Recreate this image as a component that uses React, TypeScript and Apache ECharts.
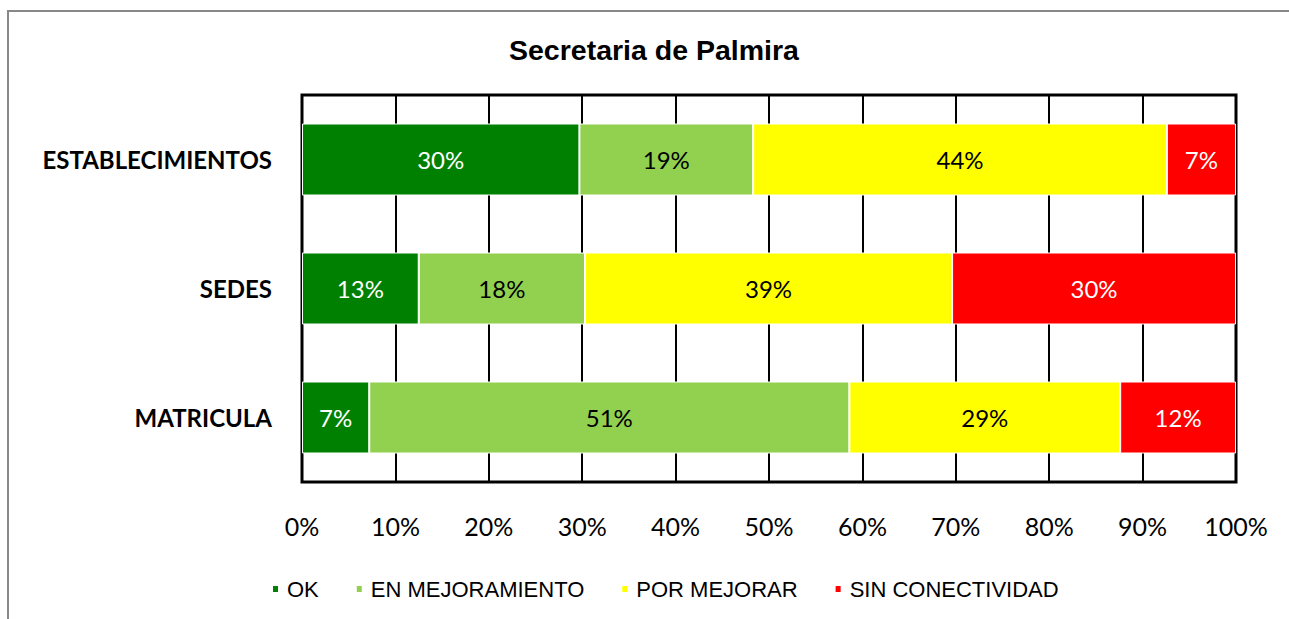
import React, { useEffect, useRef } from "react";
import * as echarts from "echarts";

const categories = ["ESTABLECIMIENTOS", "SEDES", "MATRICULA"];
const seriesNames = ["OK", "EN MEJORAMIENTO", "POR MEJORAR", "SIN CONECTIVIDAD"];
const okValues = [29.7, 12.5, 7.2];
const enMejoramientoValues = [18.6, 17.8, 51.4];
const porMejorarValues = [44.3, 39.3, 29.0];
const sinConectividadValues = [7.4, 30.4, 12.4];
const xTicks = [0, 10, 20, 30, 40, 50, 60, 70, 80, 90, 100];

const seriesColors = ["#008000", "#92D050", "#FFFF00", "#FF0000"];
const labelColors = ["#ffffff", "#000000", "#000000", "#ffffff"];

export default function App() {
  const ref = useRef<HTMLDivElement>(null);
  useEffect(() => {
    if (!ref.current) return;
    const chart = echarts.init(ref.current, null, { renderer: "svg" });
    const values = [okValues, enMejoramientoValues, porMejorarValues, sinConectividadValues];
    const option: any = {
      animation: false,
      backgroundColor: "#ffffff",
      title: {
        text: "Secretaria de Palmira",
        left: 504,
        top: 30,
        textStyle: {
          fontFamily: "'Liberation Sans', Arial, sans-serif",
          fontWeight: "bold",
          fontSize: 28.5,
          color: "#000",
        },
      },
      graphic: [
        {
          type: "line",
          shape: { x1: 8, y1: 11, x2: 1289, y2: 11 },
          style: { stroke: "#888888", lineWidth: 2 },
          silent: true,
          z: -10,
        },
        {
          type: "line",
          shape: { x1: 8, y1: 10, x2: 8, y2: 619 },
          style: { stroke: "#888888", lineWidth: 2 },
          silent: true,
          z: -10,
        },
      ],
      legend: {
        data: seriesNames,
        left: 271,
        top: 578,
        padding: 0,
        icon: "rect",
        itemWidth: 7,
        itemHeight: 8,
        itemGap: 36,
        textStyle: {
          fontFamily: "'Liberation Sans', Arial, sans-serif",
          fontSize: 22,
          color: "#000",
          padding: [0, 0, 0, 3],
        },
      },
      grid: {
        left: 302,
        right: 53,
        top: 95,
        bottom: 137,
        show: true,
        borderColor: "#000",
        borderWidth: 3,
        containLabel: false,
      },
      xAxis: {
        type: "value",
        min: xTicks[0],
        max: xTicks[xTicks.length - 1],
        interval: 10,
        axisLine: { show: false },
        axisTick: { show: false },
        splitLine: { show: true, lineStyle: { color: "#000", width: 2 } },
        axisLabel: {
          formatter: "{value}%",
          margin: 31,
          fontFamily: "Lato, 'Open Sans', sans-serif",
          fontSize: 25,
          color: "#000",
        },
      },
      yAxis: {
        type: "category",
        data: categories,
        inverse: true,
        axisLine: { show: false },
        axisTick: { show: false },
        splitLine: { show: false },
        axisLabel: {
          margin: 30,
          fontFamily: "Lato, 'Open Sans', sans-serif",
          fontWeight: "bold",
          fontSize: 24,
          color: "#000",
        },
      },
      series: seriesNames.map((name, i) => ({
        name,
        type: "bar",
        stack: "total",
        barWidth: 72,
        data: values[i],
        itemStyle: { color: seriesColors[i], borderColor: "#ffffff", borderWidth: 1 },
        label: {
          show: true,
          position: "inside",
          formatter: (p: any) => Math.round(p.value) + "%",
          fontFamily: "Lato, 'Open Sans', sans-serif",
          fontSize: 24,
          color: labelColors[i],
        },
      })),
    };
    chart.setOption(option);
    return () => chart.dispose();
  }, []);
  return (
    <div
      ref={ref}
      style={{ position: "absolute", left: 0, top: 0, width: 1289, height: 619, background: "#fff" }}
    />
  );
}
